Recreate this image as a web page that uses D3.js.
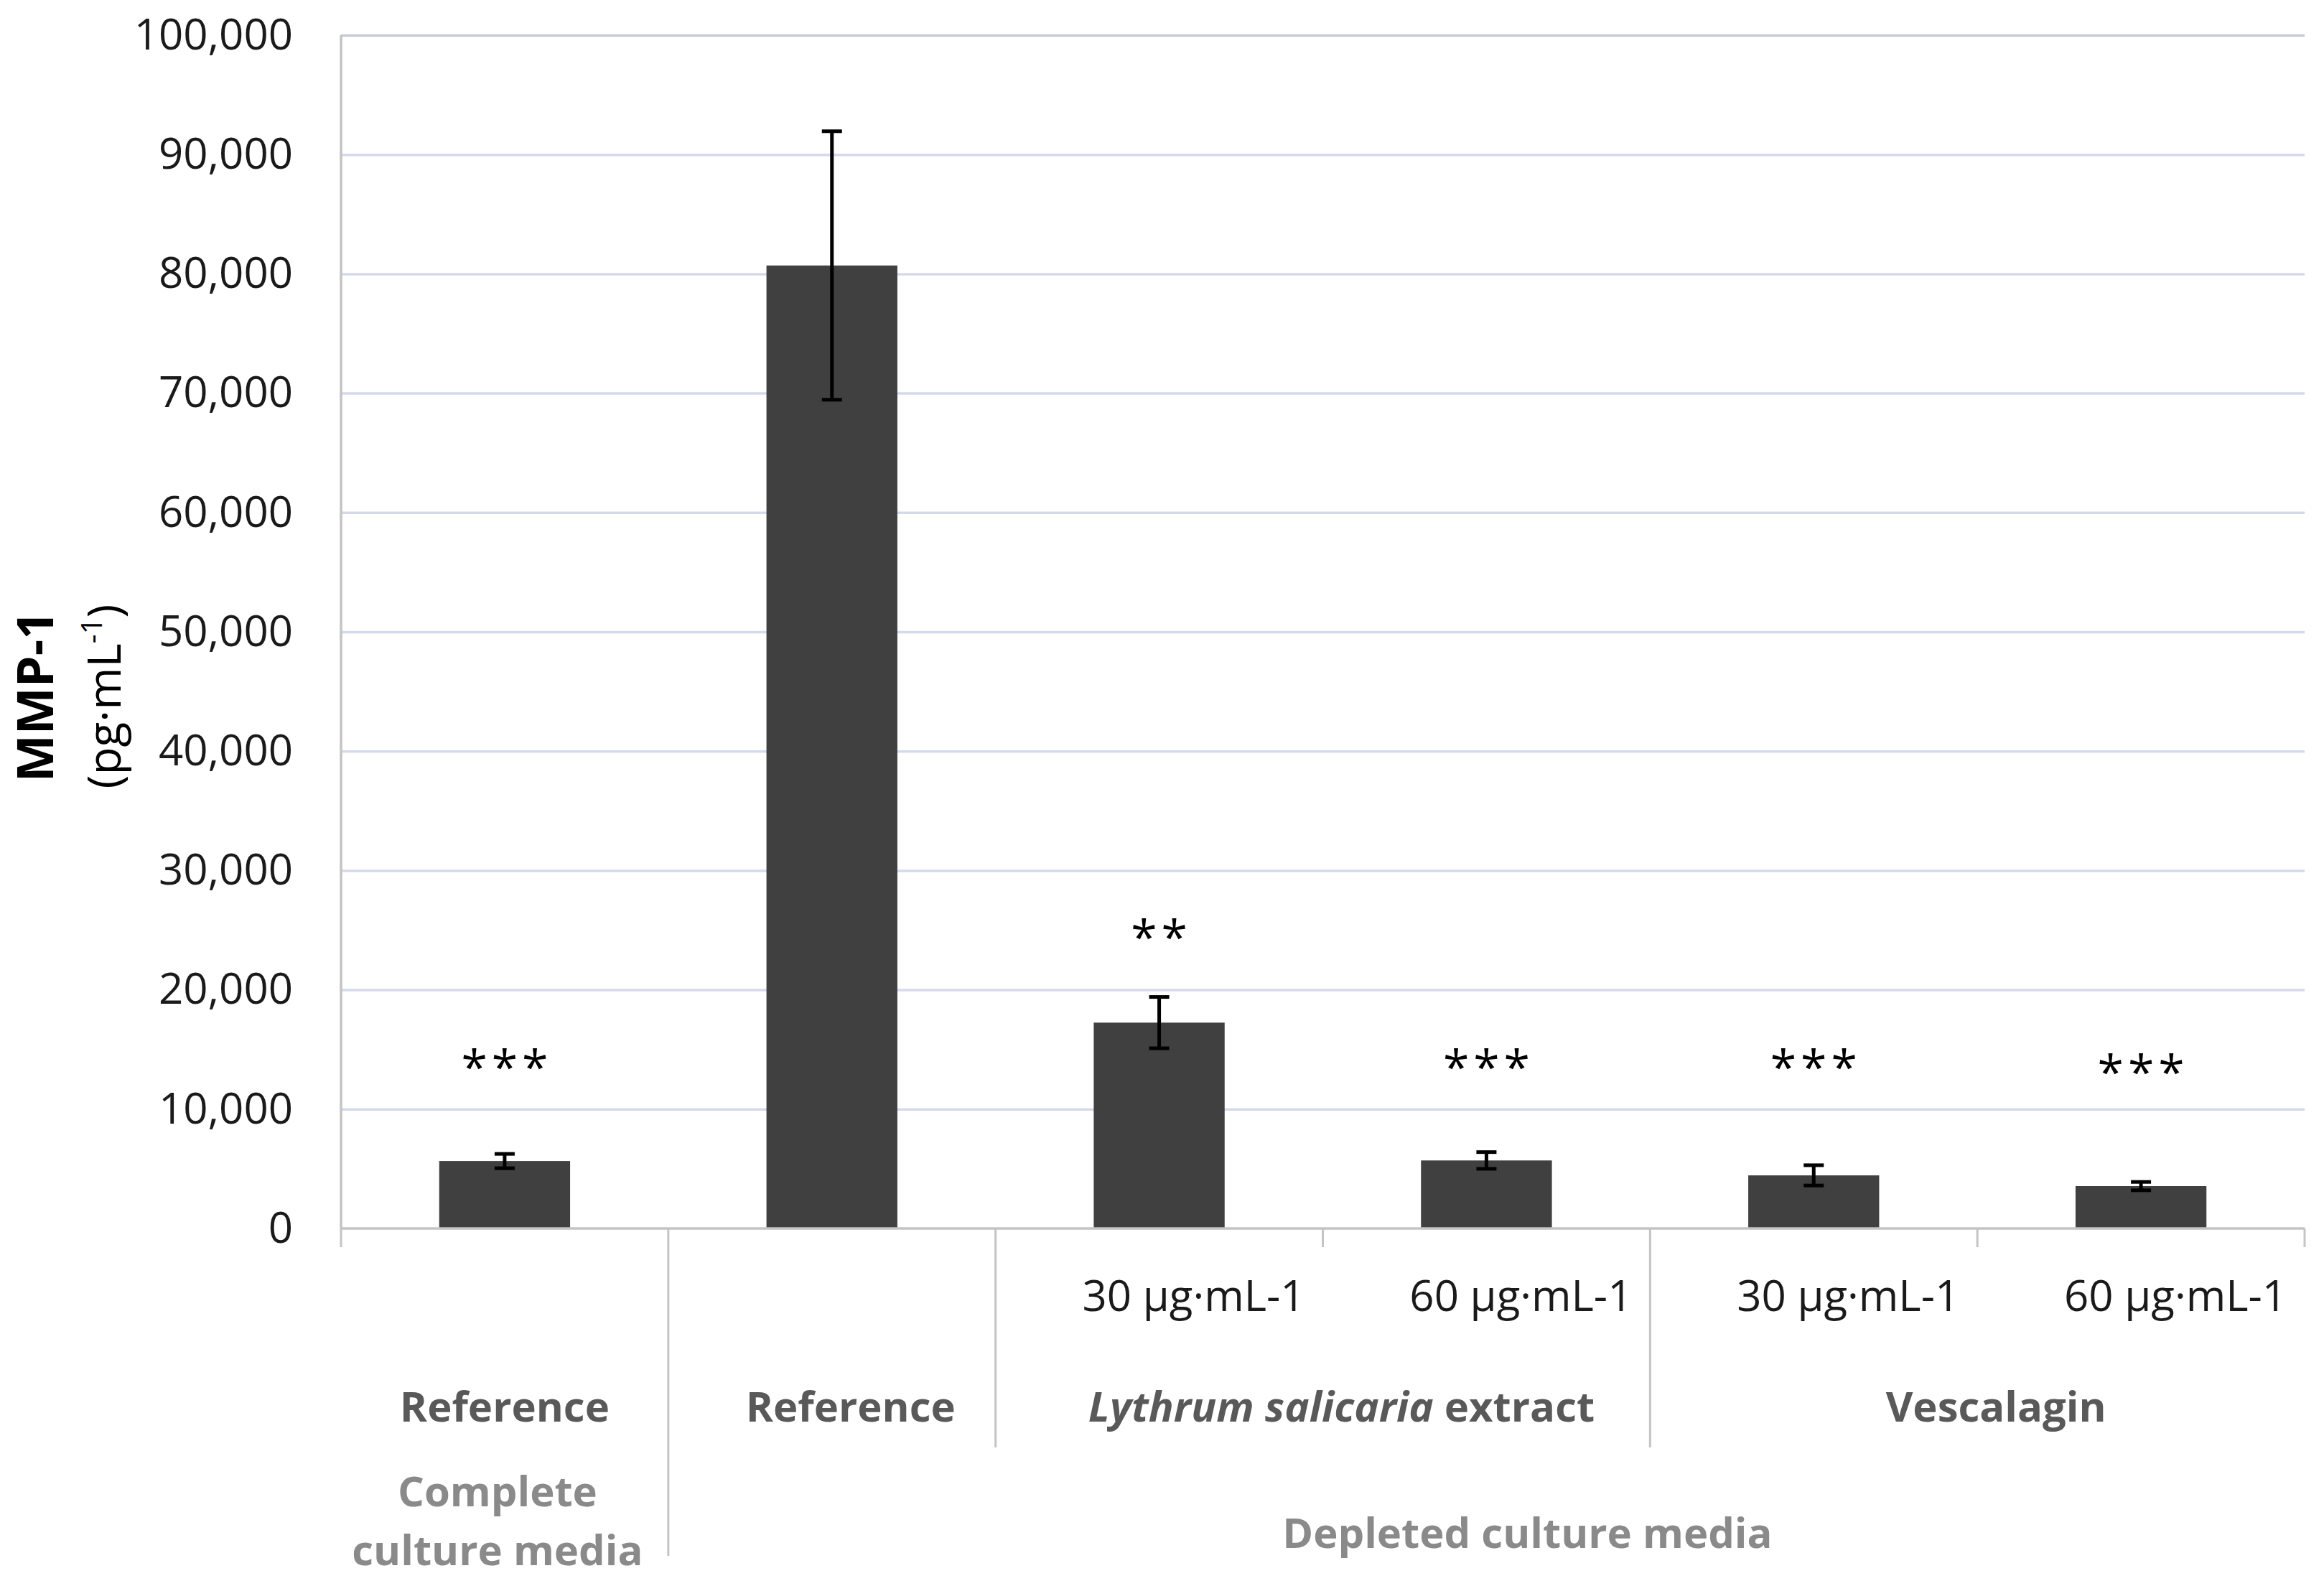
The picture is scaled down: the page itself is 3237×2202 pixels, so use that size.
<!DOCTYPE html>
<html>
<head>
<meta charset="utf-8">
<script src="https://cdn.jsdelivr.net/npm/d3@7"></script>
<style>
  body { margin: 0; background: #fff; }
  svg { display: block; font-family: "Open Sans", "Noto Sans", sans-serif; }
</style>
</head>
<body>
<script>
// * DATA
const concLabels = ["", "", "30 µg·mL-1", "60 µg·mL-1", "30 µg·mL-1", "60 µg·mL-1"];
const meanValues = [5650, 80700, 17250, 5700, 4450, 3550];
const errValues = [600, 11250, 2150, 700, 850, 350];
const sigLabels = ["***", "", "**", "***", "***", "***"];
const sigLevels = [12100, 0, 23000, 12100, 12100, 11700];

const groupLabels = ["Reference", "Reference", "Lythrum salicaria extract", "Vescalagin"];
const groupStart = [0, 1, 2, 4];
const groupEnd = [0, 1, 3, 5];

const mediaLabels = [["Complete", "culture media"], ["Depleted culture media"]];
const mediaStart = [0, 1];
const mediaEnd = [0, 5];

const yTicks = d3.range(0, 100001, 10000);

// * SETUP
const width = 3237;
const height = 2202;
const margin = { top: 49, right: 27, bottom: 491, left: 475 };
const x0 = margin.left;
const x1 = width - margin.right;
const yBase = height - margin.bottom;

const x = d3
	.scaleBand()
	.domain(d3.range(meanValues.length))
	.range([x0, x1])
	.paddingInner(0.6)
	.paddingOuter(0.3);

const y = d3.scaleLinear().domain([0, 100000]).range([yBase, margin.top]);

// boundary between category i-1 and i
const edge = (i) => x0 + i * x.step();
const center = (i) => x(i) + x.bandwidth() / 2;

const svg = d3
	.select("body")
	.append("svg")
	.attr("width", width)
	.attr("height", height)
	.attr("viewBox", [0, 0, width, height]);

// * GRIDLINES
svg.append("g")
	.attr("transform", `translate(${x0},0)`)
	.call(
		d3.axisLeft(y)
			.tickValues(yTicks.filter((d) => d > 0))
			.tickSize(-(x1 - x0))
			.tickFormat("")
	)
	.call((g) => g.select(".domain").remove())
	.call((g) =>
		g.selectAll(".tick line")
			.attr("stroke", (d) => (d === 100000 ? "#c3ccd6" : "#d5d9ec"))
			.attr("stroke-width", 3.5)
	);

// * Y AXIS LABELS
svg.append("g")
	.attr("transform", `translate(${x0},0)`)
	.call(
		d3.axisLeft(y)
			.tickValues(yTicks)
			.tickSize(0)
			.tickPadding(67)
			.tickFormat(d3.format(","))
	)
	.call((g) => g.select(".domain").remove())
	.call((g) =>
		g.selectAll(".tick text")
			.attr("font-size", 60)
			.attr("fill", "#1a1a1a")
			.attr("font-family", "Open Sans")
	);

// * BARS
svg.append("g")
	.selectAll("rect")
	.data(meanValues)
	.join("rect")
	.attr("x", (d, i) => x(i))
	.attr("y", (d) => y(d))
	.attr("width", x.bandwidth())
	.attr("height", (d) => y(0) - y(d))
	.attr("fill", "#404040");

// * ERROR BARS
const eb = svg.append("g").attr("stroke", "#000").attr("stroke-width", 5);
eb.selectAll("line.stem")
	.data(meanValues)
	.join("line")
	.attr("class", "stem")
	.attr("x1", (d, i) => center(i))
	.attr("x2", (d, i) => center(i))
	.attr("y1", (d, i) => y(d - errValues[i]))
	.attr("y2", (d, i) => y(d + errValues[i]));
eb.selectAll("line.capTop")
	.data(meanValues)
	.join("line")
	.attr("class", "capTop")
	.attr("x1", (d, i) => center(i) - 14)
	.attr("x2", (d, i) => center(i) + 14)
	.attr("y1", (d, i) => y(d + errValues[i]))
	.attr("y2", (d, i) => y(d + errValues[i]));
eb.selectAll("line.capBot")
	.data(meanValues)
	.join("line")
	.attr("class", "capBot")
	.attr("x1", (d, i) => center(i) - 14)
	.attr("x2", (d, i) => center(i) + 14)
	.attr("y1", (d, i) => y(d - errValues[i]))
	.attr("y2", (d, i) => y(d - errValues[i]));

// * SIGNIFICANCE MARKS
svg.append("g")
	.selectAll("text")
	.data(sigLabels)
	.join("text")
	.attr("x", (d, i) => center(i) + 3)
	.attr("y", (d, i) => y(sigLevels[i]))
	.attr("text-anchor", "middle")
	.attr("font-size", 66)
	.attr("letter-spacing", 6)
	.attr("fill", "#000")
	.text((d) => d);

// * AXES LINES
svg.append("line")
	.attr("x1", x0)
	.attr("x2", x1)
	.attr("y1", yBase)
	.attr("y2", yBase)
	.attr("stroke", "#c4c4c4")
	.attr("stroke-width", 3.5);

svg.append("line")
	.attr("x1", x0)
	.attr("x2", x0)
	.attr("y1", margin.top)
	.attr("y2", yBase)
	.attr("stroke", "#c4c4c4")
	.attr("stroke-width", 3.5);

// category separators (multi-level axis)
const sepDepth = (i) => {
	if (i > 0 && i < meanValues.length && mediaStart.includes(i)) return 456;
	if (i > 0 && i < meanValues.length && groupStart.includes(i)) return 305;
	return 26;
};
svg.append("g")
	.selectAll("line")
	.data(d3.range(meanValues.length + 1))
	.join("line")
	.attr("x1", (i) => edge(i))
	.attr("x2", (i) => edge(i))
	.attr("y1", yBase)
	.attr("y2", (i) => yBase + sepDepth(i))
	.attr("stroke", "#c4c4c4")
	.attr("stroke-width", 3);

// level 1: concentrations
svg.append("g")
	.selectAll("text")
	.data(concLabels)
	.join("text")
	.attr("x", (d, i) => center(i) + 48)
	.attr("y", yBase + 115)
	.attr("text-anchor", "middle")
	.attr("font-size", 60)
	.attr("fill", "#1a1a1a")
	.text((d) => d);

// level 2: treatments
const lvl2 = svg.append("g")
	.selectAll("text")
	.data(groupLabels)
	.join("text")
	.attr("x", (d, i) => (edge(groupStart[i]) + edge(groupEnd[i] + 1)) / 2 + (i > 0 ? 26 : 0))
	.attr("y", yBase + 269)
	.attr("text-anchor", "middle")
	.attr("font-size", 58)
	.attr("font-weight", "bold")
	.attr("fill", "#595959");
lvl2.each(function (d) {
	const t = d3.select(this);
	if (d.startsWith("Lythrum salicaria")) {
		t.append("tspan").attr("font-style", "italic").text("Lythrum salicaria");
		t.append("tspan").text(d.slice("Lythrum salicaria".length));
	} else {
		t.text(d);
	}
});

// level 3: culture media
svg.append("g")
	.selectAll("text")
	.data(mediaLabels)
	.join("text")
	.attr("x", (d, i) => (edge(mediaStart[i]) + edge(mediaEnd[i] + 1)) / 2 + (i > 0 ? 57 : -10))
	.attr("y", (d) => (d.length > 1 ? yBase + 387 : yBase + 445))
	.attr("text-anchor", "middle")
	.attr("font-size", 58)
	.attr("font-weight", "bold")
	.attr("fill", "#8a8a8a")
	.selectAll("tspan")
	.data((d) => d)
	.join("tspan")
	.attr("x", function () {
		return d3.select(this.parentNode).attr("x");
	})
	.attr("dy", (d, i) => (i === 0 ? 0 : 82))
	.text((d) => d);

// * Y TITLE
const title = svg.append("g").attr("transform", "translate(0,970) rotate(-90)");
title.append("text")
	.attr("x", 0)
	.attr("y", 74)
	.attr("text-anchor", "middle")
	.attr("font-size", 70)
	.attr("font-weight", "bold")
	.attr("fill", "#000")
	.text("MMP-1");
const unit = title.append("text")
	.attr("x", 0)
	.attr("y", 168)
	.attr("text-anchor", "middle")
	.attr("font-size", 64)
	.attr("fill", "#000");
unit.append("tspan").text("(pg·mL");
unit.append("tspan").attr("font-size", 40).attr("dy", -26).text("-1");
unit.append("tspan").attr("dy", 26).text(")");
</script>
</body>
</html>
